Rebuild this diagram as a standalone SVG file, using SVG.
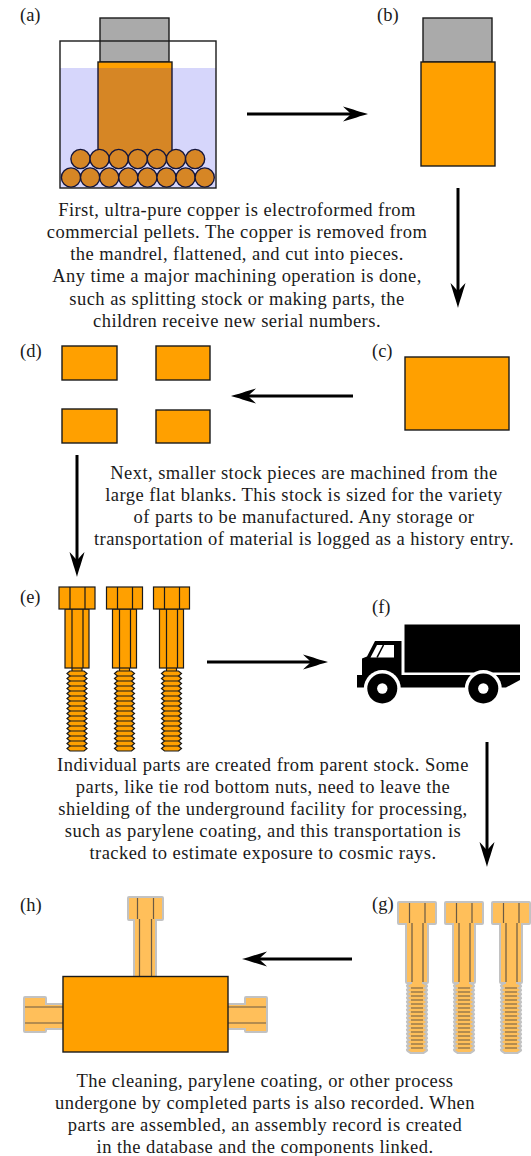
<svg xmlns="http://www.w3.org/2000/svg" width="531" height="1156" viewBox="0 0 531 1156">
<style>
  .cap{font-family:"Liberation Serif","Times New Roman",serif;font-size:18.5px;letter-spacing:.45px;text-anchor:middle;fill:#1a1a1a}
  .lb{font-family:"Liberation Serif","Times New Roman",serif;font-size:18.5px;fill:#1a1a1a}
  .ol{stroke:#1a1a1a;stroke-width:1.4}
  .cu{fill:#ffa000}
  .be rect,.be path{fill:#ffa000;stroke:#1a1a1a;stroke-width:1.2}
  .be .nf{fill:none}
</style>
<defs>
  <marker id="ah" viewBox="-9 -8 27 16" refX="3" refY="0" markerWidth="27" markerHeight="16" markerUnits="userSpaceOnUse" orient="auto">
    <path d="M17,0 C11,-1.5 1,-5 -8,-7.5 C-4,-3.5 -1,-1.2 0,0 C-1,1.2 -4,3.5 -8,7.5 C1,5 11,1.5 17,0Z" fill="#000"/>
  </marker>
  <!-- bare copper bolt: head, shank, threads -->
  <g id="boltE" class="be">
    <rect x="13" y="80" width="10" height="5"/>
    <path d="M11,84 l-3,2.5 3,2.5 -3,2.5 3,2.5 -3,2.5 3,2.5 -3,2.5 3,2.5 -3,2.5 3,2.5 -3,2.5 3,2.5 -3,2.5 3,2.5 -3,2.5 3,2.5 -3,2.5 3,2.5 -3,2.5 3,2.5 -3,2.5 3,2.5 -3,2.5 3,2.5 -3,2.5 3,2.5 -3,2.5 3,2.5 -3,2.5 3,2.5 -3,2.5 3,2.5 H25 l3,-2.5 -3,-2.5 3,-2.5 -3,-2.5 3,-2.5 -3,-2.5 3,-2.5 -3,-2.5 3,-2.5 -3,-2.5 3,-2.5 -3,-2.5 3,-2.5 -3,-2.5 3,-2.5 -3,-2.5 3,-2.5 -3,-2.5 3,-2.5 -3,-2.5 3,-2.5 -3,-2.5 3,-2.5 -3,-2.5 3,-2.5 -3,-2.5 3,-2.5 -3,-2.5 3,-2.5 -3,-2.5 3,-2.5 -3,-2.5 Z"/>
    <line x1="18" y1="88.5" x2="18" y2="160" style="stroke:#1a1a1a;stroke-width:14;stroke-dasharray:1 4"/>
    <rect x="6" y="22" width="24" height="59"/>
    <path class="nf" d="M13,22V81M24,22V81"/>
    <rect x="0" y="0" width="36" height="22"/>
    <path class="nf" d="M11,0V22M26,0V22"/>
  </g>
  <!-- coated bolt outline (painted by the uses below) -->
  <g id="gShape">
    <path d="M12,81 l-3,2 3,2 -3,2 3,2 -3,2 3,2 -3,2 3,2 -3,2 3,2 -3,2 3,2 -3,2 3,2 -3,2 3,2 -3,2 3,2 -3,2 3,2 -3,2 3,2 -3,2 3,2 -3,2 3,2 -3,2 3,2 -3,2 3,2 -3,2 3,2 -3,2 3,2 H24 l3,-2 -3,-2 3,-2 -3,-2 3,-2 -3,-2 3,-2 -3,-2 3,-2 -3,-2 3,-2 -3,-2 3,-2 -3,-2 3,-2 -3,-2 3,-2 -3,-2 3,-2 -3,-2 3,-2 -3,-2 3,-2 -3,-2 3,-2 -3,-2 3,-2 -3,-2 3,-2 -3,-2 3,-2 -3,-2 3,-2 -3,-2 Z"/>
    <rect x="13" y="78" width="10" height="4"/>
    <rect x="8" y="20" width="20" height="59"/>
    <rect x="0" y="0" width="36" height="20"/>
  </g>
  <g id="gLines" fill="none" stroke="#6b5a44" stroke-width="1.2">
    <path d="M10.5,0V20M26,0V20M13,20V79M24,20V79"/>
    <line x1="18" y1="84.5" x2="18" y2="146" stroke-width="12" stroke-dasharray="1 3"/>
  </g>
  <g id="boltG">
    <use href="#gShape" fill="#c2c2c2" stroke="#c2c2c2" stroke-width="4" stroke-linejoin="round"/>
    <use href="#gShape" fill="#ffbf5a"/>
    <use href="#gLines"/>
  </g>
</defs>

<rect width="531" height="1156" fill="#fff"/>

<!-- (a) electroforming bath -->
<g id="panel-a">
  <text class="lb" x="20" y="21">(a)</text>
  <rect x="100" y="18" width="69" height="44" fill="#aaaaaa" class="ol"/>
  <rect x="98" y="62" width="74" height="94" class="cu ol"/>
  <g class="cu ol">
    <circle cx="80.5" cy="159" r="9.6"/><circle cx="99.6" cy="159" r="9.6"/><circle cx="118.7" cy="159" r="9.6"/><circle cx="137.8" cy="159" r="9.6"/><circle cx="156.9" cy="159" r="9.6"/><circle cx="176" cy="159" r="9.6"/><circle cx="195.1" cy="159" r="9.6"/>
    <circle cx="71" cy="177.5" r="9.6"/><circle cx="90.1" cy="177.5" r="9.6"/><circle cx="109.2" cy="177.5" r="9.6"/><circle cx="128.3" cy="177.5" r="9.6"/><circle cx="147.4" cy="177.5" r="9.6"/><circle cx="166.5" cy="177.5" r="9.6"/><circle cx="185.6" cy="177.5" r="9.6"/><circle cx="204.7" cy="177.5" r="9.6"/>
  </g>
  <rect x="60" y="68" width="156" height="120" fill="rgb(0,0,230)" fill-opacity="0.16"/>
  <rect x="60" y="41" width="156" height="147" fill="none" class="ol"/>
</g>

<!-- (b) removed mandrel with copper -->
<g id="panel-b">
  <text class="lb" x="377" y="21">(b)</text>
  <rect x="423" y="18" width="69" height="44" fill="#aaaaaa" class="ol"/>
  <rect x="421" y="62" width="74" height="104" class="cu ol"/>
</g>

<!-- (c) flat blank -->
<g id="panel-c">
  <text class="lb" x="372" y="357">(c)</text>
  <rect x="405" y="357" width="104" height="73" class="cu ol"/>
</g>

<!-- (d) stock pieces -->
<g id="panel-d">
  <text class="lb" x="20" y="357">(d)</text>
  <g class="cu ol">
    <rect x="62" y="346" width="55" height="34"/>
    <rect x="156" y="346" width="54" height="34"/>
    <rect x="62" y="409" width="55" height="34"/>
    <rect x="156" y="410" width="54" height="33"/>
  </g>
</g>

<!-- (e) machined parts -->
<g id="panel-e">
  <text class="lb" x="20" y="603">(e)</text>
  <use href="#boltE" x="59" y="587"/>
  <use href="#boltE" x="106.5" y="587"/>
  <use href="#boltE" x="153.5" y="587"/>
</g>

<!-- (f) truck -->
<g id="panel-f">
  <text class="lb" x="372" y="613">(f)</text>
  <rect x="404.5" y="624.5" width="115.5" height="48" fill="#000"/>
  <path d="M362,676 V658.5 L367,656.5 L375,641 H401.5 V676 Z" fill="#000"/>
  <path d="M357,675 H520 V680 L506,687.5 H357 Z" fill="#000"/>
  <path d="M370.5,657.5 L377,645 H394 V657.5 Z" fill="#fff"/>
  <line x1="383.5" y1="645" x2="377" y2="657.5" stroke="#000" stroke-width="1.6"/>
  <circle cx="382.3" cy="688.5" r="18.5" fill="#fff"/>
  <circle cx="483.3" cy="688.5" r="18.5" fill="#fff"/>
  <circle cx="382.3" cy="688.5" r="15" fill="#000"/>
  <circle cx="483.3" cy="688.5" r="15" fill="#000"/>
  <circle cx="382.3" cy="688.5" r="5.2" fill="#fff"/>
  <circle cx="483.3" cy="688.5" r="5.2" fill="#fff"/>
</g>

<!-- (g) coated parts -->
<g id="panel-g">
  <text class="lb" x="372" y="910">(g)</text>
  <use href="#boltG" x="399" y="903"/>
  <use href="#boltG" x="446" y="903"/>
  <use href="#boltG" x="493" y="903"/>
</g>

<!-- (h) assembly -->
<g id="panel-h">
  <text class="lb" x="20" y="911">(h)</text>
  <g fill="#c2c2c2" stroke="#c2c2c2" stroke-width="4" stroke-linejoin="round">
    <rect x="129" y="898" width="33" height="21"/><rect x="135" y="919" width="20" height="58"/>
    <rect x="25" y="998" width="20" height="33"/><rect x="45" y="1005" width="18" height="23"/>
    <rect x="246" y="998" width="20" height="33"/><rect x="228" y="1005" width="18" height="23"/>
  </g>
  <g fill="#ffbf5a">
    <rect x="129" y="898" width="33" height="21"/><rect x="135" y="919" width="20" height="58"/>
    <rect x="25" y="998" width="20" height="33"/><rect x="45" y="1005" width="18" height="23"/>
    <rect x="246" y="998" width="20" height="33"/><rect x="228" y="1005" width="18" height="23"/>
  </g>
  <path d="M137.5,898V919M153.5,898V919M139.5,919V977M151.5,919V977M25,1007H63M25,1023H63M228,1007H266M228,1023H266" fill="none" stroke="#6b5a44" stroke-width="1.2"/>
  <rect x="63" y="976.5" width="165" height="75.5" class="cu ol" stroke-width="1.6"/>
</g>

<!-- process arrows -->
<g id="connectors" stroke="#000" stroke-width="3" marker-end="url(#ah)">
  <line x1="247" y1="114" x2="354" y2="114"/>
  <line x1="458" y1="188" x2="458" y2="294"/>
  <line x1="353" y1="396" x2="245" y2="396"/>
  <line x1="77" y1="455" x2="77" y2="563"/>
  <line x1="207" y1="662" x2="314" y2="662"/>
  <line x1="487" y1="742" x2="487" y2="853"/>
  <line x1="352" y1="959" x2="256" y2="959"/>
</g>

<!-- captions -->
<g id="captions">
  <text class="cap" x="237" y="216">First, ultra-pure copper is electroformed from</text>
  <text class="cap" x="237" y="238">commercial pellets. The copper is removed from</text>
  <text class="cap" x="237" y="260">the mandrel, flattened, and cut into pieces.</text>
  <text class="cap" x="237" y="282">Any time a major machining operation is done,</text>
  <text class="cap" x="237" y="305">such as splitting stock or making parts, the</text>
  <text class="cap" x="237" y="327">children receive new serial numbers.</text>

  <text class="cap" x="304" y="479">Next, smaller stock pieces are machined from the</text>
  <text class="cap" x="304" y="501">large flat blanks. This stock is sized for the variety</text>
  <text class="cap" x="304" y="523">of parts to be manufactured. Any storage or</text>
  <text class="cap" x="304" y="545">transportation of material is logged as a history entry.</text>

  <text class="cap" x="263" y="771">Individual parts are created from parent stock. Some</text>
  <text class="cap" x="263" y="793">parts, like tie rod bottom nuts, need to leave the</text>
  <text class="cap" x="263" y="815">shielding of the underground facility for processing,</text>
  <text class="cap" x="263" y="837">such as parylene coating, and this transportation is</text>
  <text class="cap" x="263" y="859">tracked to estimate exposure to cosmic rays.</text>

  <text class="cap" x="265" y="1087">The cleaning, parylene coating, or other process</text>
  <text class="cap" x="265" y="1109">undergone by completed parts is also recorded. When</text>
  <text class="cap" x="265" y="1131">parts are assembled, an assembly record is created</text>
  <text class="cap" x="265" y="1153">in the database and the components linked.</text>
</g>
</svg>
